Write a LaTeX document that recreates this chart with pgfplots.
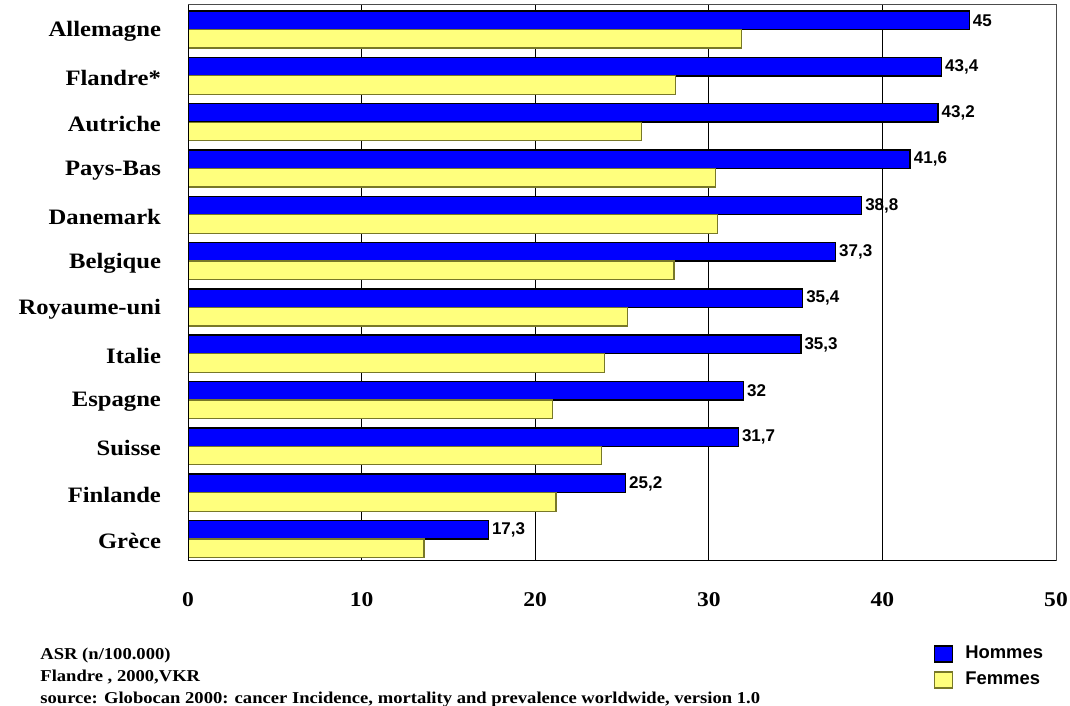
\documentclass[border=0pt]{standalone}
\usepackage{fontspec}
\setmainfont{Liberation Serif}[FakeStretch=1.12]
\newfontfamily\lsans{Liberation Sans}
\usepackage{pgfplots}
\pgfplotsset{compat=1.18}
\usepackage{pgfplotstable}

\definecolor{hblue}{RGB}{0,0,255}
\definecolor{fyellow}{RGB}{255,255,125}
\definecolor{fedge}{RGB}{120,120,40}

% ASR per 100.000, men and women
\pgfplotstableread{
pos hommes femmes
11 45.0 31.9
10 43.4 28.1
9  43.2 26.1
8  41.6 30.4
7  38.8 30.5
6  37.3 28.0
5  35.4 25.3
4  35.3 24.0
3  32.0 21.0
2  31.7 23.8
1  25.2 21.2
0  17.3 13.6
}\asrdata

\pgfplotsset{
  legbox/.style={legend image code/.code={%
    \draw[##1,/tikz/.cd] (0pt,-4pt) rectangle (9pt,4pt);
    \path (13pt,0pt);}}
}

\begin{document}
\begin{tikzpicture}[x=1pt,y=1pt]
\path[use as bounding box] (0,0) rectangle (535,353);
\begin{axis}[
  at={(94pt,72.5pt)}, anchor=south west,
  scale only axis, width=434pt, height=278pt,
  xbar, bar width=0.4,
  xmin=0, xmax=50, ymin=-0.476, ymax=11.53,
  xtick={0,10,...,50},
  ytick={0,...,11},
  yticklabels={Grèce,Finlande,Suisse,Espagne,Italie,Royaume-uni,Belgique,Danemark,Pays-Bas,Autriche,Flandre*,Allemagne},
  major tick length=0pt,
  xmajorgrids, major grid style={black, line width=0.5pt},
  axis line style={draw=gray!60!black, line width=0.5pt},
  /pgf/number format/assume math mode=true,
  xticklabel style={font=\bfseries\fontsize{10.5}{12}\selectfont, yshift=-12pt},
  yticklabel style={font=\bfseries\fontsize{11}{13}\selectfont, xshift=-10pt, yshift=-1pt},
  legend style={at={(0.852,-0.138)}, anchor=north west, draw=none, fill=none,
    font=\lsans\bfseries\fontsize{9.2}{11}\selectfont, row sep=1.2pt,
    cells={anchor=west}},
]
\addplot[fill=hblue, draw=black, line width=0.7pt, bar shift=0.2, legbox,
  point meta=x, nodes near coords,
  nodes near coords style={font=\lsans\bfseries\fontsize{8.5}{10}\selectfont,
    anchor=west, inner sep=1.5pt,
    /pgf/number format/.cd, use comma, fixed, precision=1}]
  table[x=hommes, y=pos] {\asrdata};
\addlegendentry{Hommes}
\addplot[fill=fyellow, draw=fedge, line width=0.6pt, bar shift=-0.2, legbox]
  table[x=femmes, y=pos] {\asrdata};
\addlegendentry{Femmes}
\draw[black, line width=1pt] (rel axis cs:0,1) -- (rel axis cs:0,0) -- (rel axis cs:1,0);
\end{axis}
\begin{scope}[every node/.style={anchor=base west, inner sep=0pt, font=\bfseries\fontsize{8.3}{10}\selectfont}]
\node at (20,23) {ASR (n/100.000)};
\node at (20,12) {Flandre , 2000,VKR};
\node at (20,1) {source: Globocan 2000: cancer Incidence, mortality and prevalence worldwide, version 1.0};
\end{scope}
\end{tikzpicture}
\end{document}
